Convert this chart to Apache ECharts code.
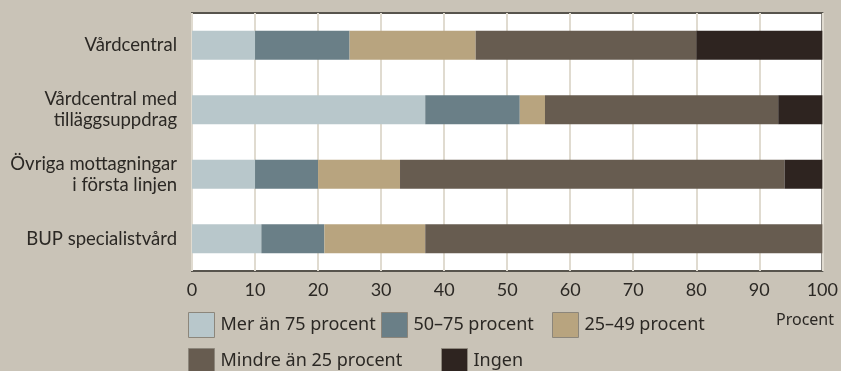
<!DOCTYPE html>
<html>
<head>
<meta charset="utf-8">
<script src="https://cdn.jsdelivr.net/npm/echarts@6/dist/echarts.min.js"></script>
<style>
  html, body { margin: 0; padding: 0; background: #c9c3b7; }
  #chart { width: 841px; height: 371px; }
</style>
</head>
<body>
<div id="chart"></div>
<script>
const categories = [
  'Vårdcentral',
  'Vårdcentral med\ntilläggsuppdrag',
  'Övriga mottagningar\ni första linjen',
  'BUP specialistvård',
];

const seriesNames = [
  'Mer än 75 procent',
  '50–75 procent',
  '25–49 procent',
  'Mindre än 25 procent',
  'Ingen',
];

// andel (procent) per kategori, i samma ordning som categories
const merAn75 = [10, 37, 10, 11];
const mellan50och75 = [15, 15, 10, 10];
const mellan25och49 = [20, 4, 13, 16];
const mindreAn25 = [35, 37, 61, 63];
const ingen = [20, 7, 6, 0];

const xTicks = [0, 10, 20, 30, 40, 50, 60, 70, 80, 90, 100];

const colors = ['#b8c7cb', '#6a7f87', '#b8a47f', '#675c50', '#2e2420'];
const values = [merAn75, mellan50och75, mellan25och49, mindreAn25, ingen];

const font = 'Lato';
const legendFont = 'Noto Sans';
const textColor = '#2b2824';

const chart = echarts.init(document.getElementById('chart'), null, { renderer: 'canvas' });

// en legend per post, så att raderna hamnar som i förlagan
const legendPos = [
  { left: 188, top: 312 },
  { left: 381, top: 312 },
  { left: 552, top: 312 },
  { left: 188, top: 348 },
  { left: 441, top: 348 },
];

function legendStyle(i) {
  return {
    data: [seriesNames[i]],
    left: legendPos[i].left,
    top: legendPos[i].top,
    padding: 0,
    itemWidth: 26,
    itemHeight: 25,
    icon: 'rect',
    itemStyle: { borderColor: '#8c867b', borderWidth: 1 },
    textStyle: { fontFamily: legendFont, fontSize: 18, color: textColor, padding: [0, 0, 0, 1] },
    selectedMode: false,
  };
}

chart.setOption({
  backgroundColor: '#c9c3b7',
  animation: false,
  legend: seriesNames.map((_, i) => legendStyle(i)),
  grid: {
    left: 192,
    right: 18,
    top: 13,
    bottom: 100,
    show: true,
    backgroundColor: '#ffffff',
    borderColor: '#57544d',
    borderWidth: 2,
  },
  xAxis: {
    type: 'value',
    min: xTicks[0],
    max: xTicks[xTicks.length - 1],
    interval: 10,
    axisLine: { show: false },
    axisTick: { show: false },
    axisLabel: {
      fontFamily: font,
      fontSize: 18,
      color: textColor,
      margin: 10,
    },
    splitLine: {
      show: true,
      lineStyle: { color: '#e0dbd0', width: 2 },
    },
  },
  yAxis: {
    type: 'category',
    inverse: true,
    data: categories,
    axisLine: { show: false },
    axisTick: { show: false },
    axisLabel: {
      fontFamily: font,
      fontSize: 18.5,
      lineHeight: 21,
      color: textColor,
      align: 'right',
      margin: 15,
    },
  },
  graphic: [
    {
      type: 'text',
      right: 7,
      top: 312,
      style: { text: 'Procent', font: '16px "Noto Sans"', fill: textColor },
    },
  ],
  series: seriesNames.map((name, i) => ({
    name,
    type: 'bar',
    stack: 'total',
    barWidth: 29,
    itemStyle: { color: colors[i] },
    data: values[i],
  })),
});
</script>
</body>
</html>
